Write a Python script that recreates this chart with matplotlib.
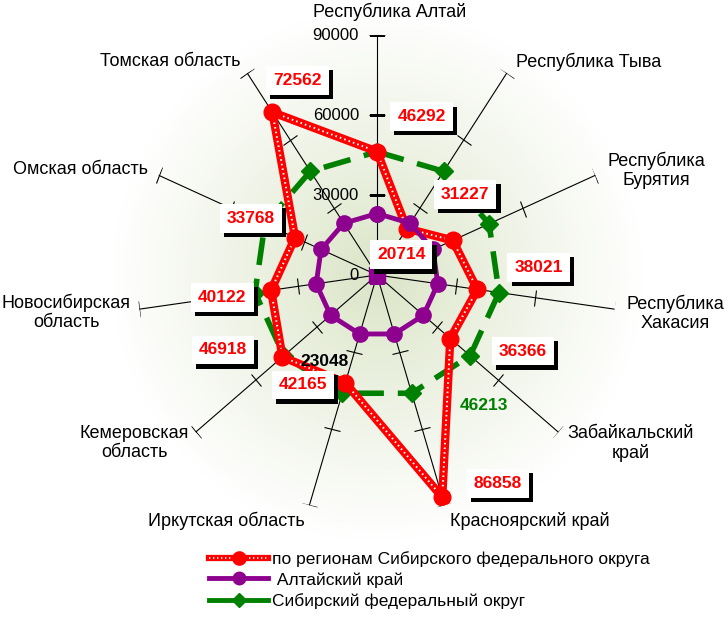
import numpy as np
import matplotlib.pyplot as plt
import matplotlib.patheffects as pe
from matplotlib.markers import MarkerStyle
from matplotlib.transforms import Affine2D
from matplotlib.lines import Line2D

categories = ["Республика Алтай", "Республика Тыва", "Республика\nБурятия", "Республика\nХакасия",
              "Забайкальский\nкрай", "Красноярский край", "Иркутская область", "Кемеровская\nобласть",
              "Новосибирская\nобласть", "Омская область", "Томская область"]
regions = [46292, 20714, 31227, 38021, 36366, 86858, 42165, 46918, 40122, 33768, 72562]
altai_krai = [23048, 23048, 23048, 23048, 23048, 23048, 23048, 23048, 23048, 23048, 23048]
sfo = [46213, 46213, 46213, 46213, 46213, 46213, 46213, 46213, 46213, 46213, 46213]
axis_ticks = [0, 30000, 60000, 90000]
center_point = [0]
legend_labels = ["по регионам Сибирского федерального округа", " Алтайский край", "Сибирский федеральный округ"]

plt.rcParams['font.family'] = ['Liberation Sans', 'DejaVu Sans']
RED, PURPLE, GREEN = '#ff0000', '#8e008e', '#008000'

fig = plt.figure(figsize=(7.28, 6.24), dpi=100)

# radial green background
bg = fig.add_axes([0, 0, 1, 1])
bg.axis('off')
yy, xx = np.mgrid[0:624, 0:728]
t = np.clip(np.hypot(xx - 377, yy - 275) / 265, 0, 1) ** 0.9
c0 = np.array([0.855, 0.895, 0.775])
img = c0 * (1 - t[..., None]) + t[..., None]
bg.imshow(img, extent=[0, 728, 624, 0], aspect='auto')

ax = fig.add_axes([137 / 728, 109 / 624, 480 / 728, 480 / 624], projection='polar')
ax.set_theta_zero_location('N')
ax.set_theta_direction(-1)
ax.set_ylim(0, 90000)
ax.axis('off')

n = len(categories)
theta = np.arange(n) * 2 * np.pi / n
theta_c = np.append(theta, theta[0])

# spokes with cross ticks
for th in theta:
    ax.plot([th, th], [0, axis_ticks[-1]], color='black', lw=0.8, zorder=2)
    mk = MarkerStyle('_', transform=Affine2D().rotate_deg(-np.degrees(th)))
    ax.plot([th] * 3, axis_ticks[1:], ls='none', marker=mk, ms=12, mec='black', mew=0.8, zorder=2)

for v in axis_ticks:
    ax.annotate(str(v), (0, v), xytext=(-13, 0), textcoords='offset points',
                ha='right', va='center', fontsize=12, zorder=3)

# series
ax.plot(theta_c, np.append(sfo, sfo[0]), color=GREEN, lw=4, ls=(0, (5, 2.5)), zorder=3)
ax.plot(theta, sfo, ls='none', marker='D', ms=9, color=GREEN, zorder=3)
ax.plot(theta_c, np.append(regions, regions[0]), color=RED, lw=6, zorder=4)
ax.plot(theta_c, np.append(regions, regions[0]), color='white', lw=1.4,
        ls=(0, (0.8, 1.6)), zorder=4.1)
ax.plot(theta, regions, ls='none', marker='o', ms=12, color=RED, zorder=4.2)
ax.plot(theta_c, np.append(altai_krai, altai_krai[0]), color=PURPLE, lw=3.5,
        marker='o', ms=11, zorder=5)
ax.plot([0], center_point, marker='s', ms=12, color=PURPLE, ls='none', zorder=5)

shadow = [pe.SimplePatchShadow(offset=(3, -3), shadow_rgbFace='black', alpha=1), pe.Normal()]
label_offsets = [(32, 25), (-4, -19), (9, 33), (44, 16), (52, -9), (40, 10),
                 (-30.5, -1.5), (-43, 5), (-35, -5), (-32, 14), (18, 23)]
for th, v, off in zip(theta, regions, label_offsets):
    a = ax.annotate(str(v), (th, v), xytext=off, textcoords='offset points', ha='center',
                    va='center', fontsize=12.5, fontweight='bold', color=RED,
                    bbox=dict(boxstyle='square,pad=0.4', fc='white', ec='none'),
                    zorder=7, annotation_clip=False)
    a.get_bbox_patch().set_path_effects(shadow)

ax.annotate(str(altai_krai[6]), (theta[6], altai_krai[6]), xytext=(-25, -20),
            textcoords='offset points', ha='center', va='center', fontsize=12.5,
            fontweight='bold', color='black', zorder=8)
ax.annotate(str(sfo[4]), (theta[4], sfo[4]), xytext=(10, -36),
            textcoords='offset points', ha='center', va='center', fontsize=12.5,
            fontweight='bold', color=GREEN, zorder=8)

# category labels
cat_offsets = [(9, 16.5), (6.5, 8), (44, 3.6), (44, -3), (52, -8), (4, -11),
               (-3, -11), (-44, -8), (-52.6, -2), (-8, 4), (-5, 8)]
cat_ha = ['center', 'left', 'center', 'center', 'center', 'left',
          'right', 'center', 'center', 'right', 'right']
for th, name, off, ha in zip(theta, categories, cat_offsets, cat_ha):
    ax.annotate(name, (th, axis_ticks[-1]), xytext=off, textcoords='offset points',
                ha=ha, va='center', multialignment='center', fontsize=13,
                linespacing=1.15, annotation_clip=False)

# legend
h_red = (Line2D([], [], color=RED, lw=4.5),
         Line2D([], [], color='white', lw=1.2, ls=(0, (0.8, 1.6))),
         Line2D([], [], color=RED, ls='none', marker='o', ms=9.5))
h_purple = Line2D([], [], color=PURPLE, lw=3.5, marker='o', ms=9)
h_green = Line2D([], [], color=GREEN, lw=3.5, marker='D', ms=7)
fig.legend([h_red, h_purple, h_green], legend_labels,
           loc='upper left', bbox_to_anchor=(209 / 728, 1 - 551 / 624), frameon=False,
           fontsize=12.5, handlelength=3.4, handletextpad=0.25, labelspacing=0.3,
           borderaxespad=0, borderpad=0)

fig.savefig('out.png', dpi=100)
